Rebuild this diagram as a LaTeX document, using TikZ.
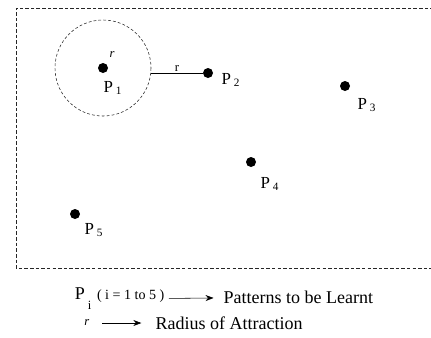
\documentclass[tikz,border=0pt]{standalone}
\usepackage{fontspec}
\setmainfont{Liberation Serif}
\usetikzlibrary{arrows.meta,positioning}
\newdimen\pxu \pxu=0.025cm
\tikzset{
  pat/.style  ={circle, fill=black, inner sep=0pt, minimum size=10\pxu},
  plbl/.style ={font=\fontsize{12}{14}\selectfont, inner sep=1pt},
  key/.style  ={font=\fontsize{12.8}{15}\selectfont, inner sep=1pt},
  frame/.style={draw=black!85, semithick, dash pattern=on 2.5pt off 1.5pt},
  basin/.style={draw=black!85, thin, dash pattern=on 2pt off 1.5pt},
  ar/.style   ={-{Stealth[length=2mm]}, thin}
}
\begin{document}
\begin{tikzpicture}[x=0.025cm, y=-0.025cm]
\useasboundingbox (0,0) rectangle (431,337);
\clip (0,0) rectangle (431,337);
% frame (open on the right)
\draw[frame] (445,8) -- (16,8) -- (16,268) -- (445,268);
% patterns
\node[pat] (p1) at (103,68) {};
\node[pat] (p2) at (208,73) {};
\node[pat] (p3) at (345,86) {};
\node[pat] (p4) at (251,162) {};
\node[pat] (p5) at (75,214) {};
\node[plbl] (l1) at (113,88) {P\,\textsubscript{1}};
\node[plbl] (l2) at (231,80) {P\,\textsubscript{2}};
\node[plbl] (l3) at (367,105) {P\,\textsubscript{3}};
\node[plbl] (l4) at (270,184) {P\,\textsubscript{4}};
\node[plbl] (l5) at (94,230) {P\,\textsubscript{5}};
% radius of attraction around P1
\draw[basin] (p1) circle (48);
\coordinate (rim) at (151,73);
\node[plbl, font=\small\itshape] (rin) at (112,55) {r};
\draw[thin] (rim) -- node[plbl, above, font=\small]{r} (p2);
% legend
\node[key, anchor=east] (k1) at (166,299)
  {P\,\raisebox{-0.9ex}{\textsubscript{i}}\;{\fontsize{10}{11}\selectfont ( i = 1 to 5 )}};
\node[key, anchor=west] (d1) at (222,297) {Patterns to be Learnt};
\draw[ar, shorten <=2pt, shorten >=6pt] (k1) -- (d1);
\node[key, font=\small\itshape, anchor=east] (k2) at (91,323) {r};
\node[key, anchor=west] (d2) at (154,323) {Radius of Attraction};
\draw[ar, shorten <=8pt, shorten >=9pt] (k2) -- (d2);
\end{tikzpicture}
\end{document}
